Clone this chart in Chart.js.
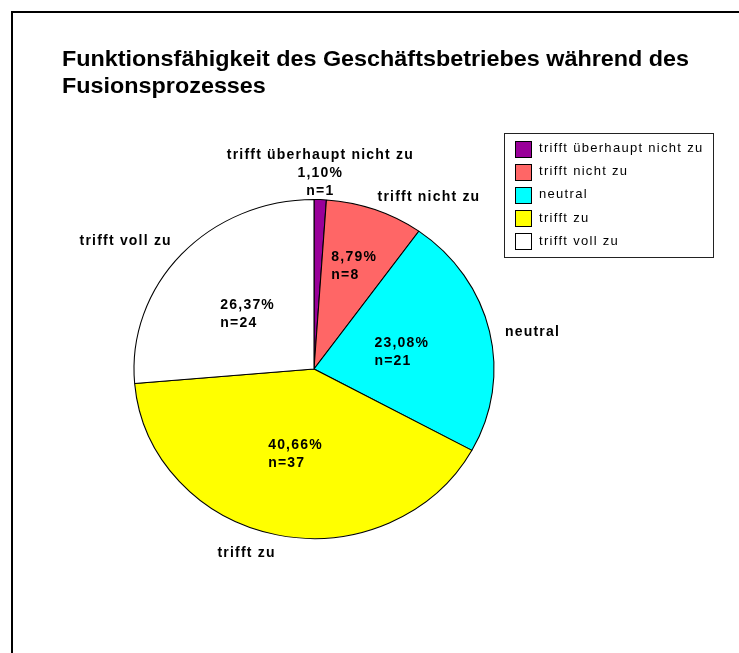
<!DOCTYPE html>
<html>
<head>
<meta charset="utf-8">
<script src="https://cdn.jsdelivr.net/npm/chart.js@4.4.1/dist/chart.umd.min.js"></script>
<style>
    body { margin: 0; background: #fff; }
    #frame { position: absolute; left: 11px; top: 11px; width: 780px; height: 700px; border-left: 2px solid #000; border-top: 2px solid #000; }
    #myChart { position: absolute; left: 0; top: 0; }
</style>
</head>
<body>
<div id="frame"></div>
<canvas id="myChart" width="739" height="653"></canvas>
<script>
var titleLines = ["Funktionsfähigkeit des Geschäftsbetriebes während des", "Fusionsprozesses"];
var categories = ["trifft überhaupt nicht zu", "trifft nicht zu", "neutral", "trifft zu", "trifft voll zu"];
var counts = [1, 8, 21, 37, 24];
var sliceColors = ["#990099", "#FF6666", "#00FFFF", "#FFFF00", "#FFFFFF"];

var FONT = '"Liberation Sans", Arial, sans-serif';
var stretchX = 1.062;   // the original is a little wider than tall (pie and text)
var LH = 18;

function pct(v) {
    var total = counts.reduce(function (a, b) { return a + b; }, 0);
    return (v / total * 100).toFixed(2).replace('.', ',') + '%';
}

function drawBlock(ctx, lines, x, top, align) {
    ctx.textAlign = align;
    ctx.textBaseline = 'middle';
    for (var j = 0; j < lines.length; j++) {
        ctx.fillText(lines[j], x, top + LH * (j + 0.5));
    }
}

// squeeze the circle into the slightly wide ellipse of the original
var ellipsePlugin = {
    id: 'ellipse',
    beforeDatasetsDraw: function (chart) {
        var arc = chart.getDatasetMeta(0).data[0];
        var ctx = chart.ctx;
        ctx.save();
        ctx.translate(arc.x, arc.y);
        ctx.scale(stretchX, 1);
        ctx.translate(-arc.x, -arc.y);
    },
    afterDatasetsDraw: function (chart) {
        chart.ctx.restore();
    }
};

var decorPlugin = {
    id: 'decor',
    afterDraw: function (chart) {
        var ctx = chart.ctx;
        var meta = chart.getDatasetMeta(0);
        var total = counts.reduce(function (a, b) { return a + b; }, 0);
        ctx.save();
        ctx.fillStyle = '#000';

        // title, slightly widened like the original
        ctx.save();
        ctx.translate(62, 0);
        ctx.scale(stretchX, 1);
        ctx.font = 'bold 22px ' + FONT;
        ctx.textAlign = 'left';
        ctx.textBaseline = 'middle';
        ctx.fillText(titleLines[0], 0, 60);
        ctx.fillText(titleLines[1], 0, 87);
        ctx.restore();

        // slice labels
        ctx.font = 'bold 14px ' + FONT;
        ctx.letterSpacing = '1.2px';
        meta.data.forEach(function (arc, i) {
            var share = counts[i] / total;
            var mid = (arc.startAngle + arc.endAngle) / 2;
            var ux = Math.cos(mid), uy = Math.sin(mid);
            var r = arc.outerRadius;
            var outer = [categories[i]];
            var inner = [pct(counts[i]), 'n=' + counts[i]];
            if (share < 0.03) {
                outer = outer.concat(inner);
                inner = [];
            }
            if (inner.length) {
                var f = share < 0.1 ? 0.66 : 0.5;
                var ix = arc.x + stretchX * r * f * ux, iy = arc.y + r * f * uy;
                var iw = Math.max.apply(null, inner.map(function (t) { return ctx.measureText(t).width; }));
                drawBlock(ctx, inner, ix - iw / 2, iy - inner.length * LH / 2 + 2, 'left');
            }
            var fo = 1.02 + 0.07 * Math.abs(ux);
            var ax = arc.x + stretchX * r * fo * ux, ay = arc.y + r * fo * uy;
            var w = Math.max.apply(null, outer.map(function (t) { return ctx.measureText(t).width; }));
            var h = outer.length * LH;
            var hx = Math.abs(ux) < 0.15 ? 0 : Math.sign(ux);
            var hy = Math.abs(uy) < 0.35 ? 0 : Math.sign(uy);
            var top = ay - h / 2 + hy * h / 2 + 4;
            if (hx == 0) {
                drawBlock(ctx, outer, ax, top, 'center');
            } else {
                drawBlock(ctx, outer, ax - w / 2 + hx * w / 2, top, 'left');
            }
        });

        // legend
        ctx.letterSpacing = '1.3px';
        ctx.font = '13px ' + FONT;
        ctx.strokeStyle = '#222';
        ctx.lineWidth = 1;
        ctx.strokeRect(504.5, 133.5, 209, 124);
        for (var i = 0; i < categories.length; i++) {
            var y = 148.5 + i * 23.2;
            ctx.fillStyle = sliceColors[i];
            ctx.fillRect(515, Math.round(y - 8), 16, 16);
            ctx.strokeStyle = '#000';
            ctx.strokeRect(515.5, Math.round(y - 8) + 0.5, 16, 16);
            ctx.fillStyle = '#000';
            ctx.textAlign = 'left';
            ctx.textBaseline = 'middle';
            ctx.fillText(categories[i], 539, y);
        }
        ctx.restore();
    }
};

var chart = new Chart(document.getElementById('myChart'), {
    type: 'pie',
    data: {
        labels: categories,
        datasets: [{
            data: counts,
            backgroundColor: sliceColors,
            borderColor: '#000',
            borderWidth: 1
        }]
    },
    options: {
        responsive: false,
        animation: false,
        events: [],
        layout: { padding: { left: 144, right: 255, top: 199, bottom: 114 } },
        plugins: {
            legend: { display: false },
            title: { display: false },
            tooltip: { enabled: false }
        }
    },
    plugins: [ellipsePlugin, decorPlugin]
});
</script>
</body>
</html>
